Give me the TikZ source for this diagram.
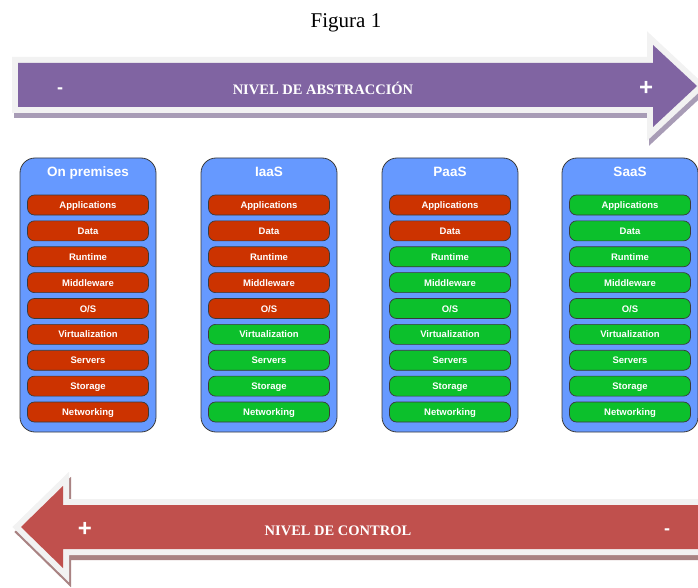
\documentclass[tikz,border=0pt]{standalone}
\usepackage{fontspec}
\setmainfont{Liberation Serif}
\setsansfont{Liberation Sans}
\usepackage{xcolor}
\usepackage{tikz}
\definecolor{abspurple}{HTML}{8064A2}
\definecolor{ctrlred}{HTML}{C0504D}
\definecolor{rim}{HTML}{F2F2F2}
\definecolor{purpleshade}{HTML}{A89CB6}
\definecolor{redshade}{HTML}{A98383}
\definecolor{colblue}{HTML}{6699FF}
\definecolor{srvred}{HTML}{CC3300}
\definecolor{srvgreen}{HTML}{0CC02C}
\definecolor{edge}{HTML}{3A3A3A}
\tikzset{
  rimline/.style={draw=rim, line width=12pt, line join=miter},
  shade/.style={line width=12pt, line join=miter},
  title/.style={font=\fontsize{21}{25}\selectfont, anchor=base},
  arrowlab/.style={text=white, font=\bfseries\fontsize{14.5}{17}\selectfont, anchor=base},
  sign/.style={text=white, font=\sffamily\bfseries\fontsize{24}{28}\selectfont, inner sep=0pt},
  minus/.style={sign, font=\sffamily\bfseries\fontsize{18}{20}\selectfont},
  column/.style={draw=edge, line width=0.8pt, fill=colblue, rounded corners=15pt,
    minimum width=136pt, minimum height=274pt, inner sep=0pt},
  colhead/.style={text=white, font=\sffamily\bfseries\fontsize{13.5}{16}\selectfont, anchor=base},
  layer/.style={draw=edge, line width=0.7pt, rounded corners=7pt, text=white,
    font=\sffamily\bfseries\fontsize{9.5}{11}\selectfont,
    minimum width=121pt, minimum height=20pt, inner sep=0pt, text height=7pt, text depth=0pt},
}

\begin{document}
\begin{tikzpicture}[x=1pt, y=-1pt]
  \useasboundingbox (0,0) rectangle (698,588);
  \node[title] (fig) at (346,28) {Figura 1};

  % abstraction arrow
  \def\abspath{(18,63)--(653,63)--(653,45)--(697,86)--(653,127)--(653,107)--(18,107)--cycle}
  \draw[shade, draw=purpleshade, fill=purpleshade, shift={(2,5)}] \abspath;
  \draw[rimline] \abspath;
  \fill[abspurple] \abspath;
  \node[minus] (absminus) at (60,91) {-};
  \node[arrowlab] (abslab) at (323,95) {NIVEL DE ABSTRACCIÓN};
  \node[sign] (absplus) at (646,88) {+};

  % service models
  \foreach \name/\cx/\hdr/\nred in {onprem/88/On premises/9, iaas/269/IaaS/5, paas/450/PaaS/2, saas/630/SaaS/0}{
    \node[column] (\name) at (\cx,295) {};
    \node[colhead] (\name-hdr) at (\cx,176) {\hdr};
    \foreach \lbl [count=\i] in {Applications,Data,Runtime,Middleware,O/S,Virtualization,Servers,Storage,Networking}{
      \ifnum\i>\nred \def\barcol{srvgreen}\else\def\barcol{srvred}\fi
      \node[layer, fill=\barcol] (\name-\i) at (\cx,{205+(\i-1)*25.875}) {\lbl};
    }
  }

  % control arrow
  \def\ctrlpath{(720,505)--(63,505)--(63,486)--(21,527)--(63,568)--(63,549)--(720,549)--cycle}
  \draw[shade, draw=redshade, fill=redshade, shift={(2,5)}] \ctrlpath;
  \draw[rimline] \ctrlpath;
  \fill[ctrlred] \ctrlpath;
  \node[sign] (ctrlplus) at (85,529) {+};
  \node[arrowlab] (ctrllab) at (338,535) {NIVEL DE CONTROL};
  \node[minus] (ctrlminus) at (667,532) {-};
\end{tikzpicture}
\end{document}
